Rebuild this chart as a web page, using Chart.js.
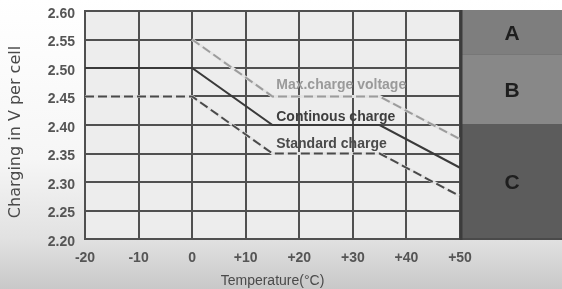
<!DOCTYPE html>
<html>
<head>
<meta charset="utf-8">
<script src="https://cdn.jsdelivr.net/npm/chart.js@4"></script>
<style>
  html, body { margin: 0; padding: 0; }
  body {
    width: 562px; height: 289px; overflow: hidden;
    background: linear-gradient(#ffffff 0%, #f6f6f6 55%, #e2e2e2 82%, #c8c8c8 100%);
  }
  #wrap { position: relative; width: 562px; height: 289px; }
</style>
</head>
<body>
<div id="wrap"><canvas id="chart" width="562" height="289"></canvas></div>
<script>
// temperature breakpoints (degC) and charging voltages (V per cell)
const temps = [-20, 0, 15, 35, 50];
const continuousCharge = [2.50, 2.50, 2.40, 2.40, 2.325];
const standardCharge = [2.45, 2.45, 2.35, 2.35, 2.275];
const maxTemps = [0, 15, 35, 50];
const maxChargeVoltage = [2.55, 2.45, 2.45, 2.375];

const xTicks = [-20, -10, 0, 10, 20, 30, 40, 50];
const yTicks = [2.20, 2.25, 2.30, 2.35, 2.40, 2.45, 2.50, 2.55, 2.60];

const zoneNames = ['A', 'B', 'C'];
const zoneEdges = [2.60, 2.522, 2.40, 2.20];

const seriesNames = ['Max.charge voltage', 'Continous charge', 'Standard charge'];

const toPoints = (xs, ys) => xs.map((x, i) => ({ x: x, y: ys[i] }));

// light plot background
const plotBg = {
  id: 'plotBg',
  beforeDraw(chart) {
    const { ctx, chartArea: a } = chart;
    ctx.save();
    ctx.fillStyle = '#ededed';
    ctx.fillRect(a.left, a.top, a.right - a.left, a.bottom - a.top);
    ctx.restore();
  }
};

// the A / B / C block on the right
const zonePanel = {
  id: 'zonePanel',
  afterDraw(chart) {
    const { ctx, chartArea: a, scales: { y } } = chart;
    const colors = ['#7e7e7e', '#888888', '#5c5c5c'];
    const x0 = a.right, x1 = chart.width;
    ctx.save();
    zoneNames.forEach((name, i) => {
      const top = y.getPixelForValue(zoneEdges[i]);
      const bot = y.getPixelForValue(zoneEdges[i + 1]);
      ctx.fillStyle = colors[i];
      ctx.fillRect(x0, top - 1, x1 - x0, bot - top + 2);
      ctx.strokeStyle = '#4a4a4a';
      ctx.lineWidth = 2;
      ctx.beginPath();
      ctx.moveTo(x0, bot);
      ctx.lineTo(x1, bot);
      ctx.stroke();
      ctx.fillStyle = '#1e1e1e';
      ctx.font = 'bold 21px "Liberation Sans", Arial, sans-serif';
      ctx.textAlign = 'center';
      ctx.textBaseline = 'middle';
      ctx.fillText(name, (x0 + x1) / 2 + 1, (top + bot) / 2 + 1);
    });
    ctx.strokeStyle = '#3c3c3c';
    ctx.lineWidth = 3;
    ctx.beginPath();
    ctx.moveTo(x0 + 1, y.getPixelForValue(zoneEdges[0]) - 1);
    ctx.lineTo(x0 + 1, y.getPixelForValue(zoneEdges[3]) + 1);
    ctx.stroke();
    ctx.restore();
  }
};

// line captions and the y axis title
const captions = {
  id: 'captions',
  afterDatasetsDraw(chart) {
    const { ctx, scales: { x, y } } = chart;
    const spots = [[15.7, 2.470, '#9a9a9a'], [15.7, 2.414, '#3e3e3e'], [15.7, 2.367, '#4a4a4a']];
    ctx.save();
    ctx.font = 'bold 14px "Liberation Sans", Arial, sans-serif';
    ctx.textAlign = 'left';
    ctx.textBaseline = 'middle';
    seriesNames.forEach((t, i) => {
      ctx.fillStyle = spots[i][2];
      ctx.fillText(t, x.getPixelForValue(spots[i][0]), y.getPixelForValue(spots[i][1]));
    });
    ctx.translate(16, 132);
    ctx.rotate(-Math.PI / 2);
    ctx.textAlign = 'center';
    ctx.fillStyle = '#4a4a4a';
    ctx.font = '16px "DejaVu Sans", sans-serif';
    ctx.fillText('Charging in V per cell', 0, 0);
    ctx.restore();
  }
};

const tickFont = { family: '"Liberation Sans", Arial, sans-serif', size: 14, weight: 'bold' };
// tiny lineHeight keeps the y labels from pushing the plot top down
const yTickFont = { family: '"Liberation Sans", Arial, sans-serif', size: 14, weight: 'bold', lineHeight: 0.1 };
const dash = [9, 4];

new Chart(document.getElementById('chart'), {
  type: 'line',
  data: {
    datasets: [
      // pale under-strokes so the dashed curves break the grid lines
      { data: toPoints(maxTemps, maxChargeVoltage), borderColor: '#e4e4e4', borderWidth: 3, order: 10 },
      { data: toPoints(temps, standardCharge), borderColor: '#e4e4e4', borderWidth: 3, order: 10 },
      {
        label: seriesNames[0],
        data: toPoints(maxTemps, maxChargeVoltage),
        borderColor: '#9c9c9c', borderWidth: 2, borderDash: dash, order: 1
      },
      {
        label: seriesNames[1],
        data: toPoints(temps, continuousCharge),
        borderColor: '#3a3a3a', borderWidth: 2, order: 1
      },
      {
        label: seriesNames[2],
        data: toPoints(temps, standardCharge),
        borderColor: '#4a4a4a', borderWidth: 2, borderDash: dash, order: 1
      }
    ]
  },
  options: {
    responsive: false,
    animation: false,
    elements: { point: { radius: 0 }, line: { tension: 0 } },
    layout: { padding: { top: 11, right: 102, left: 0, bottom: 0 } },
    plugins: { legend: { display: false }, tooltip: { enabled: false } },
    scales: {
      x: {
        type: 'linear', min: xTicks[0], max: xTicks[xTicks.length - 1],
        afterFit(s) { s.height = 50; },
        afterBuildTicks(s) { s.ticks = xTicks.map(v => ({ value: v })); },
        grid: { color: '#505050', lineWidth: 2, drawTicks: false },
        border: { color: '#505050', width: 2 },
        ticks: {
          padding: 11, color: '#555', font: tickFont, maxRotation: 0,
          callback: v => (v > 0 ? '+' + v : String(v))
        },
        title: {
          display: true, text: 'Temperature(°C)', color: '#4a4a4a',
          font: { family: '"Liberation Sans", Arial, sans-serif', size: 14 },
          padding: { top: 0, bottom: -1 }
        }
      },
      y: {
        type: 'linear', min: yTicks[0], max: yTicks[yTicks.length - 1],
        afterFit(s) { s.width = 85; },
        afterBuildTicks(s) { s.ticks = yTicks.map(v => ({ value: v })); },
        grid: { color: '#505050', lineWidth: 2, drawTicks: false },
        border: { color: '#505050', width: 2 },
        ticks: { padding: 10, labelOffset: 3, color: '#555', font: yTickFont, callback: v => v.toFixed(2) }
      }
    }
  },
  plugins: [plotBg, zonePanel, captions]
});
</script>
</body>
</html>
